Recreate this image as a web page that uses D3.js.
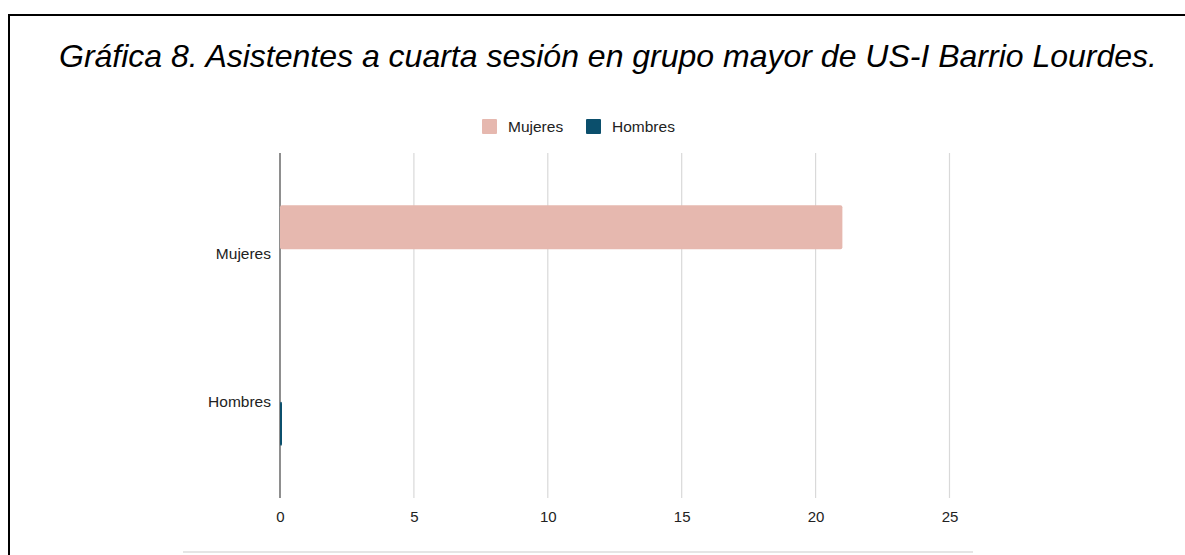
<!DOCTYPE html>
<html>
<head>
<meta charset="utf-8">
<script src="https://cdn.jsdelivr.net/npm/d3@7"></script>
<style>
  html, body { margin: 0; padding: 0; background: #fff; }
  svg { display: block; }
</style>
</head>
<body>
<div id="chart"></div>
<script>
// Attendance at the fourth session, by sex
const categories = ["Mujeres", "Hombres"];
const values = [21, 0];
const colors = ["#e6b8af", "#0b4f6c"];
const xTicks = [0, 5, 10, 15, 20, 25];
const titleText = "Gráfica 8. Asistentes a cuarta sesión en grupo mayor de US-I Barrio Lourdes.";

const W = 1185, H = 555;
const FONT = "'Liberation Sans', Arial, Helvetica, sans-serif";
const svg = d3.select("#chart").append("svg")
  .attr("width", W).attr("height", H);

// frame around the figure (top and left edges)
svg.append("line").attr("x1", 8).attr("x2", W).attr("y1", 15).attr("y2", 15)
  .attr("stroke", "#000").attr("stroke-width", 2);
svg.append("line").attr("x1", 9).attr("x2", 9).attr("y1", 14).attr("y2", H)
  .attr("stroke", "#000").attr("stroke-width", 2);

// title
svg.append("text")
  .attr("x", 608).attr("y", 67)
  .attr("text-anchor", "middle")
  .attr("font-family", FONT)
  .attr("font-style", "italic")
  .attr("font-size", 32)
  .attr("fill", "#000")
  .text(titleText);

// scales
const plotTop = 153, plotBottom = 498;
const x = d3.scaleLinear().domain([0, 25]).range([280, 949.5]);
const y = d3.scaleBand().domain(categories)
  .range([plotTop, plotBottom])
  .paddingInner(0.776).paddingOuter(0.266);
// category labels sit between the two bars
const yLabel = d3.scalePoint().domain(categories).range([253, 401]);

// vertical gridlines
const grid = svg.append("g");
grid.selectAll("line").data(xTicks.filter(d => d !== 0)).join("line")
  .attr("x1", d => x(d)).attr("x2", d => x(d))
  .attr("y1", plotTop).attr("y2", plotBottom)
  .attr("stroke", "#d9d9d9").attr("stroke-width", 1.2);

// baseline at zero
svg.append("line")
  .attr("x1", x(0)).attr("x2", x(0))
  .attr("y1", plotTop).attr("y2", plotBottom)
  .attr("stroke", "#444").attr("stroke-width", 1.2);

// bars (a zero value still shows as a thin sliver on the baseline)
svg.append("g").selectAll("rect").data(categories).join("rect")
  .attr("x", x(0))
  .attr("y", d => y(d))
  .attr("width", (d, i) => Math.max(x(values[i]) - x(0), 2))
  .attr("height", y.bandwidth())
  .attr("rx", 2).attr("ry", 2)
  .attr("fill", (d, i) => colors[i]);

// x axis tick labels
const xAxis = d3.axisBottom(x).tickValues(xTicks).tickSize(0).tickPadding(0);
const gx = svg.append("g").attr("transform", `translate(0, ${plotBottom + 24})`).call(xAxis);
gx.select(".domain").remove();
gx.selectAll("text")
  .attr("font-family", FONT)
  .attr("font-size", 15).attr("fill", "#222")
  .attr("dy", "0");

// y axis category labels
const yAxis = d3.axisLeft(yLabel).tickSize(0).tickPadding(0);
const gy = svg.append("g").attr("transform", "translate(271, 0)").call(yAxis);
gy.select(".domain").remove();
gy.selectAll("text")
  .attr("font-family", FONT)
  .attr("font-size", 15.5).attr("fill", "#222")
  .attr("dy", "0.35em");

// legend
const legendX = [482, 586];
const legend = svg.append("g");
categories.forEach((c, i) => {
  legend.append("rect")
    .attr("x", legendX[i]).attr("y", 119)
    .attr("width", 15).attr("height", 15).attr("rx", 1)
    .attr("fill", colors[i]);
  legend.append("text")
    .attr("x", legendX[i] + 26).attr("y", 132)
    .attr("font-family", FONT)
    .attr("font-size", 15.5).attr("fill", "#222")
    .text(c);
});

// thin rule under the chart
svg.append("line").attr("x1", 183).attr("x2", 973).attr("y1", 552).attr("y2", 552)
  .attr("stroke", "#dcdcdc").attr("stroke-width", 1.5);
</script>
</body>
</html>
